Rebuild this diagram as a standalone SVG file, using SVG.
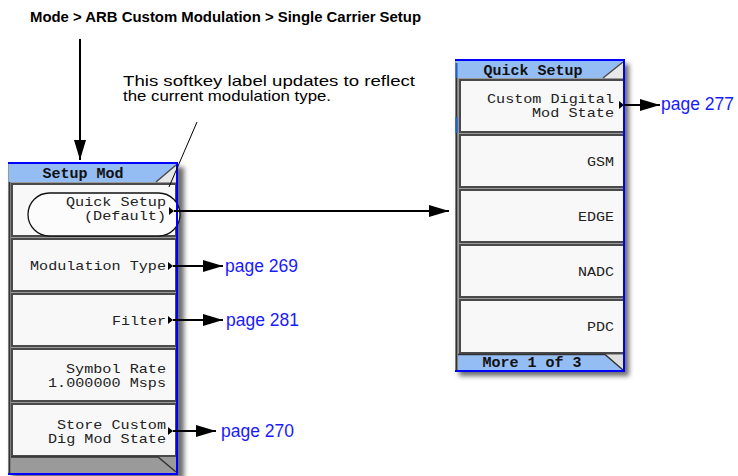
<svg xmlns="http://www.w3.org/2000/svg" width="738" height="476" viewBox="0 0 738 476">
<style>
.title{font-family:"Liberation Sans",Arial,sans-serif;font-weight:bold;font-size:14px;fill:#000}
.note{font-family:"Liberation Sans",Arial,sans-serif;font-size:14.5px;fill:#000}
.page{font-family:"Liberation Sans",Arial,sans-serif;font-size:17.5px;fill:#1a1aff}
.key{font-family:"Liberation Mono","DejaVu Sans Mono",monospace;font-size:13.5px;fill:#222;text-anchor:end}
.hdr{font-family:"Liberation Mono","DejaVu Sans Mono",monospace;font-size:15px;font-weight:bold;fill:#111;text-anchor:middle}
.btn{fill:#f8f8f8;stroke:#4a4a4a;stroke-width:2}
.panel{fill:#9a9a9a}
.hband{fill:#94bdf4}
.edge{fill:none;stroke:#0000ff;stroke-width:2}
.conn{fill:none;stroke:#000;stroke-width:2}
.tri{fill:#000}
.diag{fill:none;stroke:#4a4a4a;stroke-width:1.5}
</style>
<defs>
<marker id="ah" markerUnits="userSpaceOnUse" markerWidth="20" markerHeight="12" refX="20" refY="6" orient="auto">
<path d="M0,0 L20,6 L0,12 z" fill="#000"/>
</marker>
<filter id="sh" x="-10%" y="-10%" width="130%" height="130%">
<feGaussianBlur stdDeviation="2.5"/>
</filter>
</defs>

<g id="title">
<text class="title" x="30" y="22" textLength="391" lengthAdjust="spacingAndGlyphs">Mode &gt; ARB Custom Modulation &gt; Single Carrier Setup</text>
</g>

<g id="note">
<text class="note" x="123" y="86" textLength="292" lengthAdjust="spacingAndGlyphs">This softkey label updates to reflect</text>
<text class="note" x="123" y="101" textLength="208" lengthAdjust="spacingAndGlyphs">the current modulation type.</text>
</g>

<g id="setup-mod-menu">
<rect x="12" y="167" width="172" height="312" fill="#6a6a6a" filter="url(#sh)"/>
<rect class="panel" x="8" y="163" width="170" height="312"/>
<rect class="hband" x="9" y="164" width="168" height="18"/>
<path d="M156,182 L176,165 L176,182 z" fill="#e8e8e8"/>
<path class="diag" d="M156,182 L176,165"/>
<text class="hdr" x="83" y="178">Setup Mod</text>
<line x1="9.5" y1="182" x2="9.5" y2="474" stroke="#333" stroke-width="1.5"/>
<g id="key-quick-setup">
<rect class="btn" x="12" y="184" width="164" height="52"/>
<rect x="28" y="193" width="152" height="43" rx="21.5" fill="#fcfcfc" stroke="#111" stroke-width="1.3"/>
<text class="key" x="166" y="206" textLength="100" lengthAdjust="spacingAndGlyphs">Quick Setup</text>
<text class="key" x="166" y="220" textLength="82" lengthAdjust="spacingAndGlyphs">(Default)</text>
<path class="tri" d="M169,207 L174,211 L169,215 z"/>
</g>
<g id="key-modulation-type">
<rect class="btn" x="12" y="239" width="164" height="52"/>
<text class="key" x="166" y="270" textLength="136" lengthAdjust="spacingAndGlyphs">Modulation Type</text>
<path class="tri" d="M168,262 L173,266 L168,270 z"/>
</g>
<g id="key-filter">
<rect class="btn" x="12" y="294" width="164" height="52"/>
<text class="key" x="166" y="325" textLength="54" lengthAdjust="spacingAndGlyphs">Filter</text>
<path class="tri" d="M168,316 L173,320 L168,324 z"/>
</g>
<g id="key-symbol-rate">
<rect class="btn" x="12" y="349" width="164" height="52"/>
<text class="key" x="166" y="373" textLength="100" lengthAdjust="spacingAndGlyphs">Symbol Rate</text>
<text class="key" x="166" y="387" textLength="118" lengthAdjust="spacingAndGlyphs">1.000000 Msps</text>
</g>
<g id="key-store-custom">
<rect class="btn" x="12" y="404" width="164" height="52"/>
<text class="key" x="166" y="429" textLength="109" lengthAdjust="spacingAndGlyphs">Store Custom</text>
<text class="key" x="166" y="443" textLength="118" lengthAdjust="spacingAndGlyphs">Dig Mod State</text>
<path class="tri" d="M168,427 L173,431 L168,435 z"/>
</g>
<path d="M11,457 L158,457 L176,472" fill="none" stroke="#333" stroke-width="1.5"/>
<path class="edge" d="M8,163 L177,163 L177,474 L8,474"/>
</g>

<g id="quick-setup-menu">
<rect x="459" y="64" width="170" height="312" fill="#6a6a6a" filter="url(#sh)"/>
<rect class="panel" x="455" y="60" width="170" height="312"/>
<rect class="hband" x="456" y="61" width="168" height="17"/>
<path d="M603,78 L623,62 L623,78 z" fill="#e8e8e8"/>
<path class="diag" d="M603,78 L623,62"/>
<text class="hdr" x="533" y="75">Quick Setup</text>
<line x1="456.5" y1="78" x2="456.5" y2="371" stroke="#333" stroke-width="1.5"/>
<line x1="456.5" y1="63" x2="456.5" y2="78" stroke="#1a5fd0" stroke-width="2"/>
<line x1="456.5" y1="117" x2="456.5" y2="133" stroke="#1a5fd0" stroke-width="2"/>
<g id="key-custom-digital">
<rect class="btn" x="460" y="80" width="164" height="52"/>
<text class="key" x="614" y="103" textLength="127" lengthAdjust="spacingAndGlyphs">Custom Digital</text>
<text class="key" x="614" y="117" textLength="82" lengthAdjust="spacingAndGlyphs">Mod State</text>
<path class="tri" d="M619,101 L624,105 L619,109 z"/>
</g>
<g id="key-gsm">
<rect class="btn" x="460" y="135" width="164" height="52"/>
<text class="key" x="614" y="166" textLength="27" lengthAdjust="spacingAndGlyphs">GSM</text>
</g>
<g id="key-edge">
<rect class="btn" x="460" y="190" width="164" height="52"/>
<text class="key" x="614" y="221" textLength="36" lengthAdjust="spacingAndGlyphs">EDGE</text>
</g>
<g id="key-nadc">
<rect class="btn" x="460" y="245" width="164" height="52"/>
<text class="key" x="614" y="276" textLength="36" lengthAdjust="spacingAndGlyphs">NADC</text>
</g>
<g id="key-pdc">
<rect class="btn" x="460" y="300" width="164" height="53"/>
<text class="key" x="614" y="331" textLength="27" lengthAdjust="spacingAndGlyphs">PDC</text>
</g>
<rect class="hband" x="458" y="355" width="166" height="15"/>
<path d="M605,355 L623,370 L623,355 z" fill="#e0e0e0"/>
<path d="M458,354.5 L605,354.5 L623,370" fill="none" stroke="#333" stroke-width="1.5"/>
<text class="hdr" x="532" y="367">More 1 of 3</text>
<path class="edge" d="M455,60 L624,60 L624,371 L455,371"/>
</g>

<g id="page-269"><text class="page" x="225" y="272">page 269</text></g>
<g id="page-281"><text class="page" x="226" y="326">page 281</text></g>
<g id="page-270"><text class="page" x="221" y="437">page 270</text></g>
<g id="page-277"><text class="page" x="661" y="110">page 277</text></g>

<g id="connectors">
<line class="conn" x1="80" y1="39" x2="80" y2="160" marker-end="url(#ah)"/>
<line x1="197" y1="122" x2="169" y2="187" stroke="#000" stroke-width="1"/>
<line class="conn" x1="174" y1="211" x2="449" y2="211" marker-end="url(#ah)"/>
<line class="conn" x1="173" y1="266" x2="223" y2="266" marker-end="url(#ah)"/>
<line class="conn" x1="173" y1="320" x2="223" y2="320" marker-end="url(#ah)"/>
<line class="conn" x1="173" y1="431" x2="216" y2="431" marker-end="url(#ah)"/>
<line class="conn" x1="624" y1="105" x2="660" y2="105" marker-end="url(#ah)"/>
</g>
</svg>
